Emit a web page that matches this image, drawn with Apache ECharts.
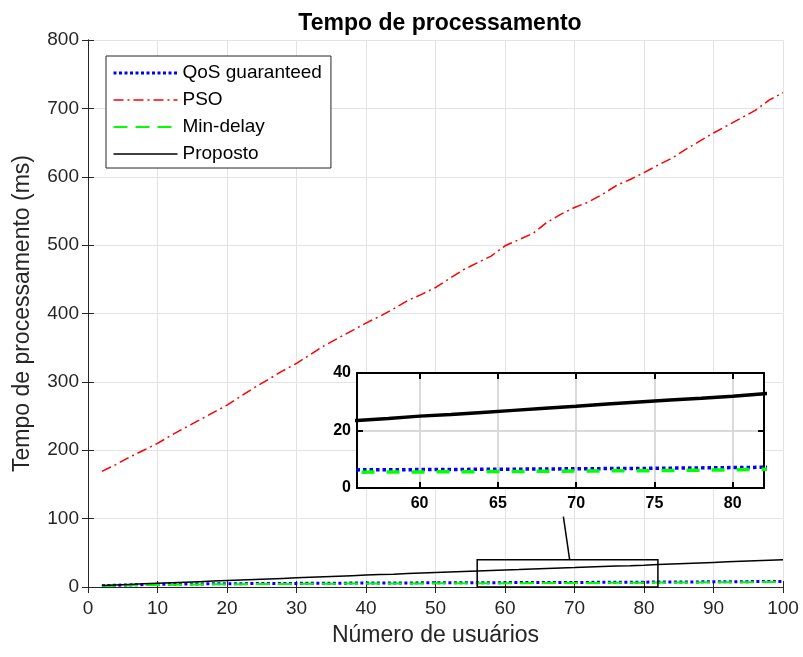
<!DOCTYPE html>
<html>
<head>
<meta charset="utf-8">
<script src="https://cdn.jsdelivr.net/npm/echarts@6/dist/echarts.min.js"></script>
<style>html,body{margin:0;padding:0;background:#fff}#c{width:803px;height:657px}</style>
</head>
<body>
<div id="c"></div>
<script>
const users = [2,4,6,8,10,12,14,16,18,20,22,24,26,28,30,32,34,36,38,40,42,44,46,48,50,52,54,56,58,60,62,64,66,68,70,72,74,76,78,80,82,84,86,88,90,92,94,96,98,100];
const qosGuaranteed = [2.0,2.6,3.1,3.5,3.8,4.1,4.3,4.5,4.7,4.8,4.9,5.0,5.1,5.2,5.3,5.4,5.5,5.6,5.7,5.8,5.85,5.9,6.0,6.05,6.1,6.2,6.25,6.3,6.35,6.4,6.45,6.5,6.55,6.6,6.7,6.75,6.8,6.9,7.0,7.1,7.2,7.3,7.4,7.5,7.6,7.7,7.8,7.9,8.0,8.1];
const pso = [169,179,190,200,210,222,233,244,255,266,279,292,304,316,327,340,353,364,375,386,396,407,419,428,438,451,464,474,484,499,508,517,533,545,555,563,574,587,596,606,617,627,640,652,664,675,686,697,712,723];
const minDelay = [1.5,2.0,2.4,2.8,3.1,3.4,3.6,3.8,4.0,4.1,4.2,4.3,4.4,4.5,4.6,4.7,4.8,4.9,5.0,5.05,5.1,5.15,5.2,5.3,5.35,5.4,5.45,5.5,5.55,5.6,5.65,5.7,5.75,5.8,5.9,5.95,6.0,6.1,6.2,6.3,6.5,6.55,6.6,6.7,6.8,6.9,7.0,7.1,7.2,7.3];
const proposto = [2.2,3.0,3.8,4.6,5.4,6.2,7.0,7.8,8.6,9.4,10.2,11.0,11.8,12.6,13.4,14.2,15.0,15.8,16.6,17.4,18.1,18.8,19.6,20.4,21.2,22.0,22.8,23.5,24.2,25.0,25.6,26.3,27.0,27.7,28.4,29.2,29.9,30.6,31.2,31.9,32.8,33.6,34.4,35.2,36.0,36.8,37.6,38.4,39.2,40.0];
const seriesNames = ['QoS guaranteed','PSO','Min-delay','Proposto'];
const insetXTicks = [60,65,70,75,80];

const FONT = 'Liberation Sans, Arial, Helvetica, sans-serif';
const pair = arr => users.map((u,i)=>[u,arr[i]]);

const styles = {
  'QoS guaranteed': {color:'#0000ff', type:[3,2.5], width:3, insetWidth:3.5, insetType:[3.5,3]},
  'PSO': {color:'#ff0000', type:[10,4,2,4], width:1.5, insetWidth:1.5, insetType:[10,4,2,4]},
  'Min-delay': {color:'#00ff00', type:[14,8], width:2, insetWidth:3.5, insetType:[13,12]},
  'Proposto': {color:'#000000', type:'solid', width:1.5, insetWidth:3.5, insetType:'solid'}
};
const dataMap = {'QoS guaranteed':qosGuaranteed, 'PSO':pso, 'Min-delay':minDelay, 'Proposto':proposto};

const series = [];
seriesNames.forEach(n=>{
  const s = styles[n];
  series.push({name:n, type:'line', xAxisIndex:0, yAxisIndex:0, data:pair(dataMap[n]), symbol:'none', z:2,
    lineStyle:{color:s.color, width:s.width, type:s.type}, itemStyle:{color:s.color}, animation:false});
});
seriesNames.forEach(n=>{
  if (n==='PSO') return;
  const s = styles[n];
  series.push({name:n, type:'line', xAxisIndex:2, yAxisIndex:2, data:pair(dataMap[n]), symbol:'none', z:6, clip:true,
    lineStyle:{color:s.color, width:s.insetWidth, type:s.insetType}, itemStyle:{color:s.color}, animation:false});
});

const axisLine = {show:true, lineStyle:{color:'#262626', width:1}};
const chart = echarts.init(document.getElementById('c'), null, {renderer:'canvas'});
const option = {
  animation:false,
  backgroundColor:'#fff',
  title:{text:'Tempo de processamento', left:435, top:7, textAlign:'center',
    textStyle:{fontFamily:FONT, fontSize:23, fontWeight:'bold', color:'#000'}},
  legend:{
    orient:'vertical', left:106, top:56, padding:[7,9,4,6], itemGap:7,
    itemWidth:64, itemHeight:14, backgroundColor:'#fff', borderColor:'#262626', borderWidth:1,
    textStyle:{fontFamily:FONT, fontSize:19, color:'#000', lineHeight:20},
    z:10,
    data:seriesNames.map(n=>({name:n,
      itemStyle:{opacity:0, borderWidth:0},
      lineStyle:{color:styles[n].color, width:styles[n].width, type:styles[n].type}}))
  },
  grid:[
    {left:88, right:20, top:40, bottom:70},
    {left:357, top:373, width:407, height:115}
  ],
  xAxis:[
    {type:'value', gridIndex:0, min:0, max:100, interval:10, position:'bottom',
      axisLine:axisLine, axisTick:{show:true, inside:true, length:6, lineStyle:{color:'#262626'}},
      axisLabel:{fontFamily:FONT, fontSize:19, color:'#262626', margin:12},
      splitLine:{show:true, lineStyle:{color:'#e3e3e3', width:1}},
      name:'Número de usuários', nameLocation:'middle', nameGap:37,
      nameTextStyle:{fontFamily:FONT, fontSize:23, color:'#262626'}},
    {type:'value', gridIndex:0, min:0, max:100, interval:10, position:'top',
      axisLine:axisLine, axisTick:{show:true, inside:true, length:6, lineStyle:{color:'#262626'}},
      axisLabel:{show:false}, splitLine:{show:false}},
    {type:'value', gridIndex:1, min:56, max:82, position:'bottom', z:5,
      axisLine:{show:true, onZero:false, lineStyle:{color:'#000', width:2}},
      axisTick:{show:true, inside:true, length:6, customValues:insetXTicks, lineStyle:{color:'#000', width:2}},
      axisLabel:{fontFamily:FONT, fontSize:16, fontWeight:'bold', color:'#000', margin:8, customValues:insetXTicks},
      splitLine:{show:true, lineStyle:{color:'#dadada', width:2}}},
    {type:'value', gridIndex:1, min:56, max:82, position:'top', z:5,
      axisLine:{show:true, onZero:false, lineStyle:{color:'#000', width:2}},
      axisTick:{show:true, inside:true, length:6, customValues:insetXTicks, lineStyle:{color:'#000', width:2}},
      axisLabel:{show:false}, splitLine:{show:false}}
  ],
  yAxis:[
    {type:'value', gridIndex:0, min:0, max:800, interval:100, position:'left',
      axisLine:axisLine, axisTick:{show:true, inside:true, length:6, lineStyle:{color:'#262626'}},
      axisLabel:{fontFamily:FONT, fontSize:19, color:'#262626', margin:9},
      splitLine:{show:true, lineStyle:{color:'#e3e3e3', width:1}},
      name:'Tempo de processamento (ms)', nameLocation:'middle', nameGap:54,
      nameTextStyle:{fontFamily:FONT, fontSize:23, color:'#262626'}},
    {type:'value', gridIndex:0, min:0, max:800, interval:100, position:'right',
      axisLine:axisLine, axisTick:{show:true, inside:true, length:6, lineStyle:{color:'#262626'}},
      axisLabel:{show:false}, splitLine:{show:false}},
    {type:'value', gridIndex:1, min:0, max:40, interval:20, position:'left', z:5,
      axisLine:{show:true, onZero:false, lineStyle:{color:'#000', width:2}},
      axisTick:{show:true, inside:true, length:6, lineStyle:{color:'#000', width:2}},
      axisLabel:{fontFamily:FONT, fontSize:16, fontWeight:'bold', color:'#000', margin:6},
      splitLine:{show:true, lineStyle:{color:'#dadada', width:2}}},
    {type:'value', gridIndex:1, min:0, max:40, interval:20, position:'right', z:5,
      axisLine:{show:true, onZero:false, lineStyle:{color:'#000', width:2}},
      axisTick:{show:true, inside:true, length:6, lineStyle:{color:'#000', width:2}},
      axisLabel:{show:false}, splitLine:{show:false}}
  ],
  series:series
};
chart.setOption(option);

// Inset background, zoom rectangle and connector line
const p1 = chart.convertToPixel({xAxisIndex:0, yAxisIndex:0}, [56, 40]);
const p2 = chart.convertToPixel({xAxisIndex:0, yAxisIndex:0}, [82, 0]);
const c1 = chart.convertToPixel({xAxisIndex:0, yAxisIndex:0}, [69.3, 40]);
const c2 = chart.convertToPixel({xAxisIndex:0, yAxisIndex:0}, [68.4, 103]);
const i1 = chart.convertToPixel({xAxisIndex:2, yAxisIndex:2}, [56, 40]);
const i2 = chart.convertToPixel({xAxisIndex:2, yAxisIndex:2}, [82, 0]);
chart.setOption({graphic:[
  {type:'rect', z:4, shape:{x:i1[0], y:i1[1], width:i2[0]-i1[0], height:i2[1]-i1[1]}, style:{fill:'#fff', stroke:null}},
  {type:'rect', z:3, shape:{x:p1[0], y:p1[1], width:p2[0]-p1[0], height:p2[1]-p1[1]}, style:{fill:null, stroke:'#000', lineWidth:1.5}},
  {type:'line', z:3, shape:{x1:c1[0], y1:c1[1], x2:c2[0], y2:c2[1]}, style:{stroke:'#000', lineWidth:1.5}}
]});
</script>
</body>
</html>
